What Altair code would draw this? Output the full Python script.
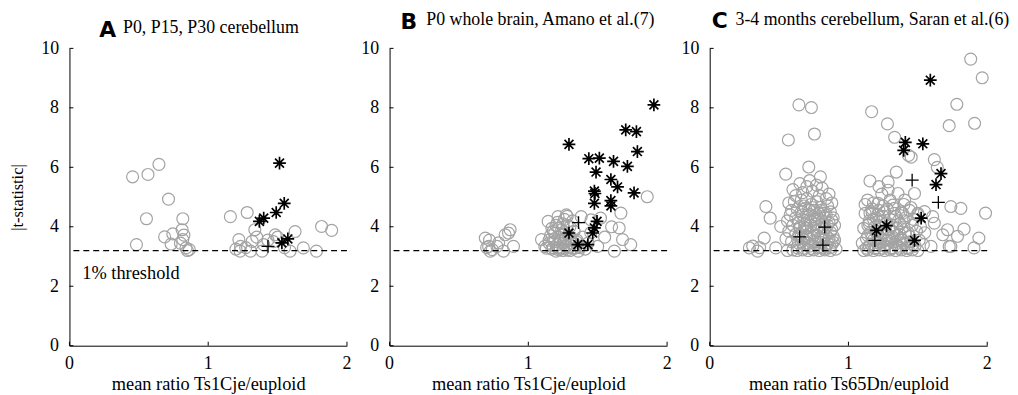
import altair as alt
import pandas as pd

# ---------------- Panel A: P0, P15, P30 cerebellum ----------------
a_circ_x = [0.455, 0.566, 0.645, 0.714, 0.555, 0.483, 0.686, 0.745, 0.733, 0.817,
            0.812, 0.825, 0.817, 0.840, 0.864, 0.800, 0.850,
            1.160, 1.281, 1.336, 1.221, 1.233, 1.230, 1.305, 1.317, 1.388, 1.483,
            1.626, 1.590, 1.686, 1.780, 1.817, 1.890, 1.400, 1.350, 1.270, 1.470,
            1.550, 1.500, 1.200, 1.430]
a_circ_y = [5.68, 5.76, 6.10, 4.93, 4.27, 3.40, 3.66, 3.76, 3.42, 4.27,
            3.90, 3.72, 3.57, 3.29, 3.23, 3.45, 3.20,
            4.34, 4.48, 3.90, 3.57, 3.34, 3.18, 3.18, 3.51, 3.18, 3.73,
            3.84, 3.18, 3.29, 3.18, 4.01, 3.88, 3.40, 3.65, 3.30, 3.50,
            3.30, 3.65, 3.25, 3.55]
a_star_x = [1.514, 1.548, 1.490, 1.400, 1.369, 1.531, 1.574]
a_star_y = [6.14, 4.79, 4.48, 4.29, 4.18, 3.46, 3.59]
a_plus_x = [1.431]
a_plus_y = [3.34]

# ---------------- Panel B: P0 whole brain, Amano et al. ----------------
b_circ_x = [0.690, 0.714, 0.726, 0.720, 0.786, 0.774, 0.821, 0.833, 0.857, 0.869,
            0.893, 0.740, 0.700,
            1.095, 1.143, 1.214, 1.274, 1.190, 1.119, 1.200, 1.250, 1.300, 1.360,
            1.381, 1.452, 1.150, 1.170, 1.220, 1.240, 1.260, 1.280, 1.180, 1.210,
            1.230, 1.270, 1.290, 1.310, 1.330, 1.350, 1.370, 1.390, 1.410, 1.430,
            1.200, 1.240, 1.160, 1.320, 1.260, 1.340, 1.190, 1.220, 1.280, 1.250,
            1.300, 1.450,
            1.13, 1.17, 1.21, 1.25, 1.29, 1.33, 1.37, 1.15, 1.19, 1.23, 1.27, 1.31, 1.35,
            1.18, 1.22, 1.26, 1.30, 1.21, 1.25, 1.28,
            1.857, 1.667, 1.655, 1.679, 1.738, 1.620, 1.500, 1.520, 1.550, 1.600]
b_circ_y = [3.62, 3.34, 3.18, 3.55, 3.46, 3.34, 3.18, 3.73, 3.79, 3.90,
            3.34, 3.23, 3.30,
            3.57, 4.18, 4.34, 4.40, 3.79, 3.34, 3.18, 3.20, 3.20, 3.18,
            4.34, 4.23, 3.45, 3.95, 3.65, 3.90, 3.55, 4.05, 3.30, 3.40,
            3.25, 3.35, 3.70, 3.45, 3.85, 3.55, 3.35, 3.65, 3.25, 3.45,
            4.05, 3.75, 3.70, 4.20, 4.25, 3.30, 3.50, 3.22, 3.22, 3.45,
            3.60, 3.80,
            3.28, 3.25, 3.30, 3.27, 3.30, 3.27, 3.30, 3.55, 3.60, 3.52, 3.62, 3.55, 3.48,
            3.85, 3.95, 3.80, 4.00, 4.15, 4.10, 4.35,
            5.01, 4.46, 3.96, 3.57, 3.40, 3.18, 3.34, 4.29, 3.65, 4.00]
b_star_x = [1.905, 1.702, 1.779, 1.293, 1.786, 1.436, 1.512, 1.614, 1.714, 1.488,
            1.595, 1.643, 1.762, 1.476, 1.480, 1.476, 1.595, 1.595, 1.495, 1.476,
            1.464, 1.293, 1.357, 1.429]
b_star_y = [8.10, 7.26, 7.20, 6.77, 6.53, 6.29, 6.31, 6.20, 6.03, 5.84,
            5.59, 5.34, 5.14, 5.20, 5.12, 4.79, 4.88, 4.70, 4.18, 3.96,
            3.79, 3.79, 3.40, 3.40]
b_plus_x = [1.362]
b_plus_y = [4.14]

# ---------------- Panel C: 3-4 months cerebellum, Saran et al. ----------------
c_circ_x = [0.643, 0.733, 0.755, 0.567, 0.548, 0.405, 0.436, 0.393, 0.286, 0.345,
            0.476, 0.512, 0.714, 0.798, 0.310, 0.360,
            0.60, 0.62, 0.65, 0.67, 0.70, 0.72, 0.74, 0.77, 0.79, 0.81, 0.84, 0.86, 0.88,
            0.57, 0.59, 0.61, 0.63, 0.66, 0.68, 0.70, 0.73, 0.75, 0.77, 0.80, 0.82, 0.85, 0.87, 0.89,
            0.56, 0.58, 0.60, 0.62, 0.64, 0.67, 0.69, 0.71, 0.73, 0.76, 0.78, 0.81, 0.83, 0.86, 0.88, 0.90,
            0.55, 0.57, 0.59, 0.62, 0.64, 0.66, 0.68, 0.70, 0.72, 0.74, 0.76, 0.78, 0.80, 0.82, 0.84, 0.86, 0.88, 0.90,
            0.56, 0.60, 0.63, 0.67, 0.71, 0.75, 0.79, 0.83, 0.87, 0.91,
            0.69, 0.75, 0.65, 0.79, 0.72,
            0.63, 0.66, 0.68, 0.71, 0.73, 0.76, 0.78, 0.80, 0.83, 0.85, 0.87, 0.89,
            0.64, 0.67, 0.70, 0.72, 0.75, 0.77, 0.80, 0.82, 0.84, 0.87, 0.89,
            0.65, 0.68, 0.70, 0.73, 0.76, 0.78, 0.81, 0.83, 0.85, 0.88,
            0.66, 0.69, 0.72, 0.74, 0.77, 0.80, 0.84,
            1.167, 1.281, 1.333, 1.433, 1.452, 1.619, 1.640, 1.345, 1.155, 1.286,
            1.286, 1.357, 1.405, 1.138, 1.548, 1.619, 1.595,
            1.881, 1.964, 1.781, 1.726, 1.909, 1.738, 1.810, 1.988, 1.714, 1.833,
            1.940, 1.905, 1.726,
            1.12, 1.15, 1.17, 1.20, 1.22, 1.25, 1.28, 1.30, 1.33, 1.36, 1.38, 1.41, 1.44, 1.47, 1.50,
            1.11, 1.14, 1.16, 1.19, 1.21, 1.24, 1.27, 1.29, 1.32, 1.35, 1.37, 1.40, 1.43, 1.46, 1.49, 1.52, 1.55,
            1.10, 1.13, 1.15, 1.18, 1.20, 1.23, 1.26, 1.28, 1.31, 1.34, 1.36, 1.39, 1.42, 1.45, 1.48, 1.51, 1.54,
            1.11, 1.14, 1.18, 1.22, 1.26, 1.30, 1.34, 1.38, 1.42, 1.46, 1.50,
            1.12, 1.18, 1.25, 1.30, 1.40, 1.45, 1.24, 1.22,
            1.13, 1.16, 1.19, 1.22, 1.25, 1.28, 1.31, 1.34, 1.37, 1.40, 1.43, 1.46,
            1.14, 1.17, 1.20, 1.23, 1.26, 1.29, 1.32, 1.35, 1.38, 1.41, 1.44,
            1.15, 1.18, 1.21, 1.24, 1.27, 1.31, 1.34, 1.37, 1.40,
            1.17, 1.21, 1.26, 1.33, 1.39,
            1.500, 1.607, 1.680, 1.786, 1.738, 1.476, 1.214, 1.320, 1.155]
c_circ_y = [8.10, 8.01, 7.12, 6.92, 5.77, 4.68, 4.29, 3.62, 3.29, 3.18,
            3.29, 4.01, 6.01, 5.68, 3.35, 3.30,
            5.25, 5.05, 5.45, 5.15, 5.35, 5.55, 5.20, 5.40, 5.05, 5.30, 4.95, 5.10, 4.80,
            4.80, 4.55, 4.85, 4.60, 4.90, 4.70, 4.95, 4.75, 4.55, 4.85, 4.65, 4.45, 4.70, 4.50, 4.30,
            4.20, 4.40, 4.05, 4.30, 4.15, 4.40, 4.10, 4.35, 4.05, 4.25, 4.00, 4.20, 3.95, 4.15, 3.90, 4.05,
            3.60, 3.85, 3.50, 3.75, 3.45, 3.70, 3.40, 3.65, 3.35, 3.80, 3.50, 3.70, 3.30, 3.55, 3.35, 3.60, 3.40, 3.55,
            3.20, 3.22, 3.20, 3.22, 3.20, 3.22, 3.20, 3.22, 3.20, 3.25,
            3.95, 3.95, 3.95, 4.45, 4.55,
            3.30, 3.50, 3.28, 3.45, 3.27, 3.42, 3.30, 3.48, 3.27, 3.45, 3.30, 3.48,
            3.70, 3.62, 3.85, 3.60, 3.72, 3.88, 3.62, 3.80, 3.70, 3.82, 3.68,
            4.00, 4.22, 3.95, 4.18, 4.10, 4.30, 3.98, 4.32, 4.05, 4.22,
            4.50, 4.62, 4.42, 4.65, 4.40, 4.55, 4.40,
            7.87, 7.46, 7.01, 6.40, 6.34, 6.26, 6.00, 5.84, 5.54, 5.51,
            5.23, 5.12, 4.90, 4.90, 4.51, 4.12, 3.34,
            9.64, 9.01, 8.12, 7.40, 7.48, 4.68, 4.62, 4.46, 3.90, 3.92,
            3.62, 3.29, 3.34,
            4.45, 4.20, 4.50, 4.30, 4.55, 4.35, 4.60, 4.25, 4.45, 4.20, 4.50, 4.30, 4.55, 4.25, 4.45,
            3.95, 4.05, 3.80, 4.00, 3.75, 3.95, 3.70, 3.90, 3.65, 3.95, 3.75, 4.00, 3.80, 4.05, 3.85, 4.00, 3.80,
            3.45, 3.60, 3.35, 3.55, 3.30, 3.50, 3.35, 3.55, 3.30, 3.50, 3.35, 3.55, 3.30, 3.50, 3.35, 3.55, 3.40,
            3.20, 3.22, 3.20, 3.22, 3.20, 3.22, 3.20, 3.22, 3.20, 3.22, 3.20,
            4.75, 4.80, 4.70, 4.90, 4.75, 4.65, 5.10, 5.35,
            3.28, 3.42, 3.27, 3.45, 3.28, 3.43, 3.27, 3.42, 3.28, 3.45, 3.27, 3.40,
            3.70, 3.62, 3.85, 3.60, 3.80, 3.62, 3.82, 3.70, 3.60, 3.80, 3.68,
            4.10, 4.25, 4.05, 4.20, 4.10, 4.05, 4.35, 4.10, 4.20,
            4.60, 4.40, 4.50, 4.62, 4.45,
            4.40, 4.34, 3.73, 3.68, 3.34, 5.12, 4.79, 4.73, 4.46]
c_star_x = [1.590, 1.410, 1.398, 1.536, 1.667, 1.631, 1.524, 1.274, 1.202, 1.476]
c_star_y = [8.93, 6.84, 6.57, 6.79, 5.79, 5.42, 4.29, 4.04, 3.88, 3.54]
c_plus_x = [0.648, 0.829, 0.816, 1.190, 1.459, 1.648]
c_plus_y = [3.66, 3.99, 3.38, 3.54, 5.57, 4.82]

threshold = 3.2
x_ticks = [0, 1, 2]
x_tick_labels = ["0", "1", "2"]
y_ticks = [0, 2, 4, 6, 8, 10]

SERIF = "Liberation Serif"
STAR = "M-1,0H1M0,-1V1M-0.7,-0.7L0.7,0.7M-0.7,0.7L0.7,-0.7"
PLUS = "M-1,0H1M0,-1V1"
W, H = 280, 300

xscale = alt.Scale(domain=[0, 2], nice=False, zero=False)
yscale = alt.Scale(domain=[0, 10], nice=False, zero=False)


def panel(cx, cy, sx, sy, px, py, letter, title, xtitle, letter_pos, title_pos, show_ytitle, note=False):
    circ = pd.DataFrame({"x": cx, "y": cy})
    star = pd.DataFrame({"x": sx, "y": sy})
    plus = pd.DataFrame({"x": px, "y": py})
    yaxis = alt.Axis(values=y_ticks, format="d", labelPadding=11, labelOverlap=False,
                     title="|t-statistic|" if show_ytitle else "",
                     titleFontSize=16.5, titlePadding=15)
    xaxis = alt.Axis(values=x_ticks, labels=False, title=xtitle, titlePadding=29)
    X = alt.X("x:Q", scale=xscale, axis=xaxis)
    Y = alt.Y("y:Q", scale=yscale, axis=yaxis)
    base = alt.Chart(circ).mark_point(shape="circle", filled=False, size=145,
                                      color="#a3a3a3", strokeWidth=1.2, opacity=1).encode(x=X, y=Y)
    rule = alt.Chart(pd.DataFrame({"y": [threshold]})).mark_rule(
        color="black", strokeDash=[6, 4], strokeWidth=1.3).encode(y=Y)
    stars = alt.Chart(star).mark_point(shape=STAR, filled=False, size=165, color="black",
                                       strokeWidth=1.7, opacity=1).encode(x=X, y=Y)
    pluses = alt.Chart(plus).mark_point(shape=PLUS, filled=False, size=170, color="black",
                                        strokeWidth=1.3, opacity=1).encode(x=X, y=Y)
    yt = alt.Chart(pd.DataFrame({"y": y_ticks})).mark_rule(color="black").encode(
        y=Y, x=alt.value(0), x2=alt.value(4))
    tick_df = pd.DataFrame({"x": x_ticks, "t": x_tick_labels})
    xt = alt.Chart(tick_df).mark_rule(color="black").encode(
        x=X, y=alt.value(H), y2=alt.value(H - 4))
    xl = alt.Chart(tick_df).mark_text(font=SERIF, fontSize=18, baseline="top", align="center",
                                      color="black").encode(
        x=X, y=alt.value(H + 9), text="t:N")
    let = alt.Chart(pd.DataFrame({"t": [letter]})).mark_text(
        font="DejaVu Sans", fontWeight="bold", fontSize=22, align="left", baseline="alphabetic",
        color="black").encode(text="t:N", x=alt.value(letter_pos[0]), y=alt.value(letter_pos[1]))
    tit = alt.Chart(pd.DataFrame({"t": [title]})).mark_text(
        font=SERIF, fontSize=18, align="left", baseline="alphabetic",
        color="black").encode(text="t:N", x=alt.value(title_pos[0]), y=alt.value(title_pos[1]))
    layers = [base, rule, stars, pluses, yt, xt, xl, let, tit]
    if note:
        nt = alt.Chart(pd.DataFrame({"x": [0.093], "y": [2.45], "t": ["1% threshold"]})).mark_text(
            font=SERIF, fontSize=18.5, align="left", baseline="middle", color="black").encode(
            x=X, y=Y, text="t:N")
        layers.append(nt)
    return alt.layer(*layers).properties(width=W, height=H)


pa = panel(a_circ_x, a_circ_y, a_star_x, a_star_y, a_plus_x, a_plus_y, "A",
           "P0, P15, P30 cerebellum", "mean ratio Ts1Cje/euploid", (30, -11), (54, -16), True, note=True)
pb = panel(b_circ_x, b_circ_y, b_star_x, b_star_y, b_plus_x, b_plus_y, "B",
           "P0 whole brain, Amano et al.(7)", "mean ratio Ts1Cje/euploid", (11, -20), (37, -24), False)
pc = panel(c_circ_x, c_circ_y, c_star_x, c_star_y, c_plus_x, c_plus_y, "C",
           "3-4 months cerebellum, Saran et al.(6)", "mean ratio Ts65Dn/euploid", (2, -21), (26, -24), False)

chart = alt.hconcat(pa, pb, pc, spacing=9).properties(
    padding={"left": 2, "top": 0, "right": 0, "bottom": 0},
    background="white",
).configure_view(strokeWidth=0).configure_axis(
    domainColor="black", domainWidth=1, ticks=False, grid=False,
    labelFont=SERIF, labelFontSize=18, labelColor="black",
    titleFont=SERIF, titleFontSize=18.5, titleFontWeight="normal", titleColor="black",
)

chart.save("out.html", embed_options={"renderer": "svg", "actions": False})
